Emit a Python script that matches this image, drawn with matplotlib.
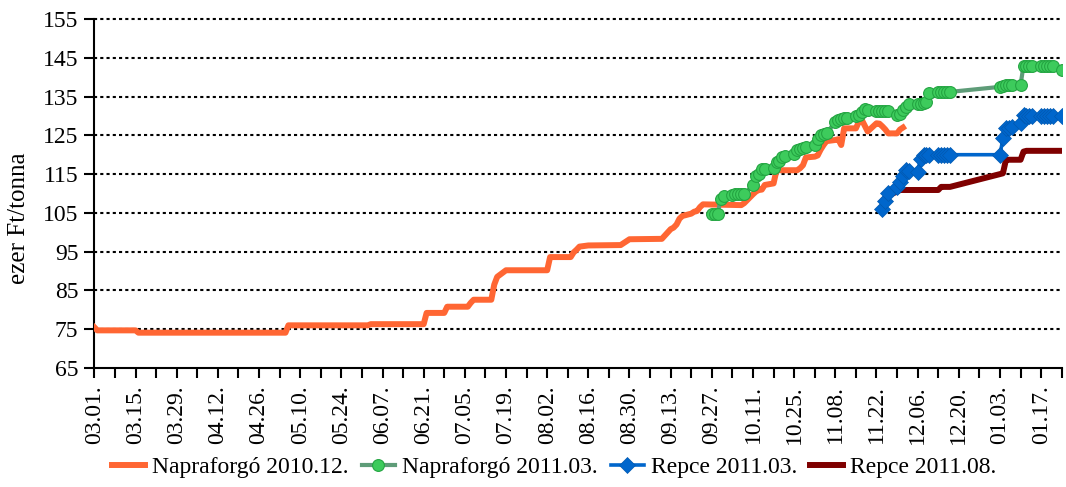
import numpy as np
import pandas as pd
import matplotlib
matplotlib.use('Agg')
import matplotlib.pyplot as plt
import matplotlib.dates as mdates
from matplotlib.ticker import FixedLocator

plt.rcParams['font.family'] = ['Liberation Serif', 'DejaVu Serif']

# Napraforgó 2010.12. (change points of the step-like price line)
orange_dates = [
    '2010-03-01', '2010-03-02', '2010-03-15', '2010-03-16', '2010-05-05', '2010-05-06',
    '2010-06-02', '2010-06-03', '2010-06-21', '2010-06-22', '2010-06-28', '2010-06-29',
    '2010-07-06', '2010-07-07', '2010-07-08', '2010-07-14', '2010-07-15', '2010-07-16',
    '2010-07-19', '2010-08-02', '2010-08-03', '2010-08-10', '2010-08-11', '2010-08-12',
    '2010-08-13', '2010-08-16', '2010-08-27', '2010-08-30', '2010-09-10', '2010-09-13',
    '2010-09-14', '2010-09-15', '2010-09-16', '2010-09-17', '2010-09-20', '2010-09-21',
    '2010-09-22', '2010-09-23', '2010-09-24', '2010-10-07', '2010-10-08', '2010-10-11',
    '2010-10-12', '2010-10-13', '2010-10-14', '2010-10-15', '2010-10-18', '2010-10-19',
    '2010-10-26', '2010-10-27', '2010-10-28', '2010-10-29', '2010-11-01', '2010-11-02',
    '2010-11-03', '2010-11-04', '2010-11-05', '2010-11-08', '2010-11-09', '2010-11-10',
    '2010-11-11', '2010-11-15', '2010-11-16', '2010-11-17', '2010-11-18', '2010-11-19',
    '2010-11-22', '2010-11-23', '2010-11-24', '2010-11-25', '2010-11-26', '2010-11-29',
    '2010-11-30', '2010-12-01',
]
orange_vals = [
    75.5, 74.7, 74.7, 74.1, 74.1, 76.0,
    76.0, 76.3, 76.3, 79.2, 79.2, 80.8,
    80.8, 81.8, 82.6, 82.6, 86.5, 88.5,
    90.2, 90.2, 93.6, 93.6, 94.8, 95.5,
    96.3, 96.6, 96.7, 98.2, 98.3, 100.8,
    101.2, 102.0, 103.5, 104.2, 104.8, 105.3,
    105.5, 106.5, 107.2, 107.0, 107.5, 109.8,
    110.5, 110.9, 111.0, 112.2, 112.6, 116.0,
    116.0, 116.5, 117.3, 119.3, 119.5, 119.8,
    121.3, 122.5, 123.5, 123.8, 124.0, 122.5,
    126.8, 126.8, 128.5, 129.0, 127.5, 126.0,
    128.1, 128.0, 127.3, 126.5, 125.5, 125.5,
    126.5, 127.0,
]

# Napraforgó 2011.03. (one value per trading day)
green_dates = list(pd.bdate_range('2010-09-27', '2010-12-17')) + list(pd.bdate_range('2011-01-03', '2011-01-24'))
green_vals = [
    104.7, 104.7, 104.7, 108.7, 109.3,
    109.5, 109.8, 109.8, 109.8, 109.8,
    112.2, 114.5, 115.0, 116.2, 116.3,
    116.5, 118.0, 118.3, 119.5, 119.7,
    120.3, 121.2, 121.6, 121.8, 122.1,
    122.5, 124.0, 125.1, 125.3, 125.5,
    128.5, 129.0, 129.2, 129.4, 129.5,
    130.0, 130.3, 131.0, 131.7, 131.5,
    131.3, 131.3, 131.2, 131.2, 131.2,
    130.2, 130.6, 131.5, 132.4, 133.2,
    133.2, 133.2, 133.3, 133.5, 135.8,
    136.2, 136.2, 136.2, 136.2, 136.2,
    137.5, 137.8, 138.0, 138.0, 138.0,
    138.0, 143.0, 143.0, 143.0, 143.0,
    143.0, 143.0, 143.0, 143.0, 143.0,
    141.8,
]

# Repce 2011.03. and Repce 2011.08. (same trading days)
repce_dates = list(pd.bdate_range('2010-11-24', '2010-12-17')) + list(pd.bdate_range('2011-01-03', '2011-01-24'))
blue_vals = [
    106.0, 108.0, 110.0,
    111.8, 113.0, 114.5, 116.0, 115.8,
    115.6, 119.0, 119.8, 120.0, 120.0,
    120.0, 120.0, 120.0, 120.0, 120.0,
    120.0, 124.2, 126.8, 127.0, 127.2,
    128.3, 130.2, 130.0, 130.0, 130.0,
    130.0, 130.0, 130.0, 130.0, 130.0,
    130.0,
]
red_vals = [
    108.0, 108.8, 109.5,
    110.5, 110.9, 110.9, 110.9, 110.9,
    110.9, 110.9, 110.9, 110.9, 110.9,
    110.9, 111.7, 111.7, 111.7, 111.7,
    115.0, 115.2, 118.6, 118.7, 118.7,
    118.7, 120.8, 121.0, 121.0, 121.0,
    121.0, 121.0, 121.0, 121.0, 121.0,
    121.0,
]

labels = ['Napraforgó 2010.12.', 'Napraforgó 2011.03.', 'Repce 2011.03.', 'Repce 2011.08.']
y_ticks = list(range(65, 156, 10))

fig = plt.figure(figsize=(10.66, 4.87), dpi=100)
ax = fig.add_axes([0.0885, 0.2444, 0.9075, 0.7166])

ax.plot(pd.to_datetime(orange_dates), orange_vals, color='#FF6633', lw=4.3,
        solid_joinstyle='round', label=labels[0], zorder=3)
ax.plot(green_dates, green_vals, color='#5E9C78', lw=3, marker='o', ms=8.5,
        mfc='#3DCB5C', mec='#24A542', mew=0.8, label=labels[1], zorder=4)
ax.plot(repce_dates, blue_vals, color='#0066CC', lw=2.6, marker='D', ms=8,
        mfc='#0066CC', mec='#0058B0', mew=0.5, label=labels[2], zorder=4)
ax.plot(repce_dates, red_vals, color='#7F0000', lw=4.3, label=labels[3], zorder=3)

# axes
x0 = pd.Timestamp('2010-03-01')
x1 = pd.Timestamp('2011-01-24')
ax.set_xlim(x0, x1)
ax.set_ylim(65, 155)
ax.set_yticks(y_ticks)
major = mdates.date2num(pd.date_range(x0, x1, freq='14D').to_pydatetime())
minor = mdates.date2num(pd.date_range(x0, x1, freq='7D').to_pydatetime())
ax.xaxis.set_major_locator(FixedLocator(major))
ax.xaxis.set_minor_locator(FixedLocator(minor))
ax.xaxis.set_major_formatter(mdates.DateFormatter('%m.%d.'))
ax.tick_params(axis='x', which='both', direction='out', length=7.5, width=1.5, color='black')
ax.tick_params(axis='x', which='major', labelsize=17, labelrotation=90, pad=5)
ax.tick_params(axis='y', direction='out', length=7.5, width=1.5, labelsize=17, pad=4)

for side in ['top', 'right']:
    ax.spines[side].set_visible(False)
for side in ['left', 'bottom']:
    ax.spines[side].set_linewidth(1.5)

for v in y_ticks[1:]:
    ax.axhline(v, color='black', lw=1.5, ls=(0, (1.5, 1.5)), zorder=1, clip_on=False)

ax.set_ylabel('ezer Ft/tonna', fontsize=18)
ax.yaxis.set_label_coords(-0.066, 0.43)

fig.legend(loc='center', bbox_to_anchor=(0.52, 0.041), ncol=4, frameon=False,
           fontsize=17, handlelength=1.4, handletextpad=0.3, columnspacing=0.55)

plt.savefig('out.png', dpi=100)
